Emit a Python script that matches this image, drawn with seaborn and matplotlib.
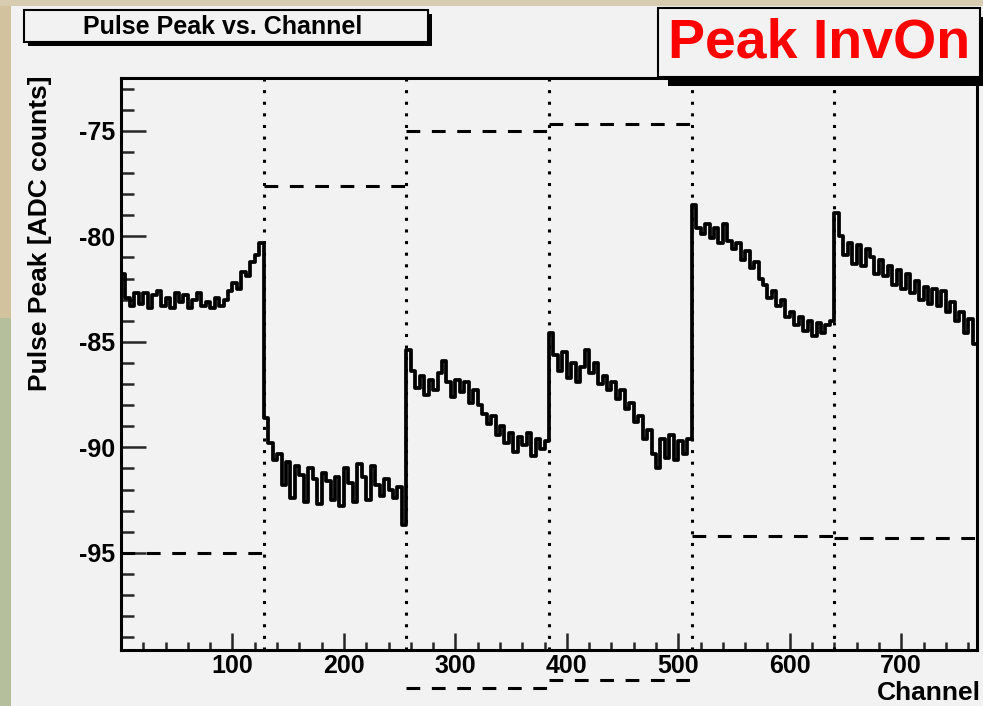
import numpy as np
import matplotlib.pyplot as plt
import seaborn as sns
from matplotlib.patches import Rectangle

# channel binning used when reading values off the plot (4 channels per value)
bin_width = 4
n_channels = 768

# pulse peak per 4-channel bin, one list per 128-channel chip
chip1 = [-81.8, -82.9, -83.3, -82.7, -83.2, -82.7, -83.4, -82.8, -82.6, -83.3, -82.9, -83.4,
         -82.7, -83.1, -82.8, -83.4, -83.0, -82.7, -83.3, -83.1, -83.4, -82.9, -83.3, -83.0,
         -82.6, -82.2, -82.5, -81.7, -81.9, -81.2, -80.9, -80.3]
chip2 = [-88.6, -89.8, -90.6, -90.3, -91.8, -90.7, -92.4, -90.9, -91.3, -92.6, -91.0, -91.5,
         -92.7, -91.2, -91.6, -92.5, -91.4, -92.8, -91.0, -91.7, -92.6, -90.8, -91.4, -92.5,
         -90.9, -91.8, -92.3, -91.5, -92.0, -92.4, -91.9, -93.7]
chip3 = [-85.4, -86.4, -87.2, -86.6, -87.5, -86.8, -87.3, -86.5, -85.9, -86.9, -87.6, -86.8,
         -87.4, -86.9, -87.9, -87.3, -88.0, -88.4, -88.9, -88.5, -89.4, -89.0, -89.8, -89.3,
         -90.2, -89.5, -89.9, -89.3, -90.4, -89.6, -90.1, -89.7]
chip4 = [-84.6, -85.6, -86.4, -85.5, -86.7, -86.0, -86.9, -86.2, -85.4, -86.5, -86.0, -87.0,
         -86.6, -87.3, -86.9, -87.7, -87.3, -88.2, -87.9, -88.8, -88.5, -89.6, -89.2, -90.3,
         -91.0, -89.6, -90.5, -89.4, -90.6, -89.7, -90.3, -89.6]
chip5 = [-78.5, -79.6, -79.9, -79.4, -80.1, -79.6, -80.3, -79.4, -80.2, -80.6, -80.3, -81.1,
         -80.7, -81.5, -81.2, -82.0, -82.3, -82.9, -82.6, -83.3, -83.0, -83.8, -83.6, -84.2,
         -83.8, -84.5, -84.0, -84.7, -84.1, -84.6, -84.2, -84.0]
chip6 = [-78.9, -80.0, -80.9, -80.3, -81.3, -80.4, -81.4, -80.6, -81.0, -81.8, -81.1, -81.9,
         -81.4, -82.3, -81.6, -82.5, -81.8, -82.7, -82.1, -83.0, -82.4, -83.2, -82.5, -83.3,
         -82.6, -83.6, -83.1, -84.0, -83.6, -84.6, -83.9, -85.1]

chip_edges = [0, 128, 256, 384, 512, 640, 768]
# dashed reference level per chip
chip_levels = [-95.0, -77.6, -75.0, -74.7, -94.2, -94.3]
# second dashed levels that fall below the frame (chips 3 and 4)
low_chips = [2, 3]
low_levels = [-101.4, -101.0]

peak = chip1 + chip2 + chip3 + chip4 + chip5 + chip6
x = list(range(0, n_channels, bin_width)) + [n_channels]
y = peak + [peak[-1]]

W, H = 983, 706
panel = "#f2f2f2"
sns.set_style("ticks")
plt.rcParams["font.family"] = ["Liberation Sans", "DejaVu Sans"]
plt.rcParams["font.weight"] = "bold"
plt.rcParams["axes.unicode_minus"] = False

fig = plt.figure(figsize=(W / 100, H / 100), dpi=100, facecolor=panel)

# strip of the desktop picture peeking out at the left and top edges
fig.patches.append(Rectangle((0, 0.55), 11 / W, 0.45, transform=fig.transFigure,
                             facecolor="#d3c29e", edgecolor="none", zorder=-5))
fig.patches.append(Rectangle((0, 0), 11 / W, 0.55, transform=fig.transFigure,
                             facecolor="#b6bf9c", edgecolor="none", zorder=-5))
fig.patches.append(Rectangle((0, 1 - 6 / H), 1, 6 / H, transform=fig.transFigure,
                             facecolor="#d8ccb0", edgecolor="none", zorder=-5))

ax = fig.add_axes([121 / W, 56 / H, 856 / W, 572 / H])
ax.set_facecolor(panel)

sns.lineplot(x=x, y=y, ax=ax, color="black", linewidth=2.7, drawstyle="steps-post",
             estimator=None, sort=False)

for edge in chip_edges[1:-1]:
    ax.axvline(edge, color="black", linewidth=2.2, linestyle=(0, (1, 2.8)), zorder=1)

for i, lvl in enumerate(chip_levels):
    ax.plot([chip_edges[i], chip_edges[i + 1]], [lvl, lvl], color="black",
            linewidth=2.2, linestyle=(0, (4.5, 3.8)))
for i, lvl in zip(low_chips, low_levels):
    ax.plot([chip_edges[i], chip_edges[i + 1]], [lvl, lvl], color="black",
            linewidth=2.2, linestyle=(0, (4.5, 3.8)), clip_on=False)

ax.set_xlim(0, 768)
ax.set_ylim(-99.6, -72.5)
ax.set_xticks([100, 200, 300, 400, 500, 600, 700])
ax.set_xticks(np.arange(20, 768, 20), minor=True)
ax.set_yticks([-95, -90, -85, -80, -75])
ax.set_yticks(np.arange(-99, -72, 1), minor=True)
ax.tick_params(axis="both", which="both", direction="in", width=1.8, labelsize=18,
               top=False, right=False, labelcolor="black")
ax.tick_params(axis="y", which="major", length=18, pad=4)
ax.tick_params(axis="y", which="minor", length=9)
ax.tick_params(axis="x", which="major", length=12, pad=3)
ax.tick_params(axis="x", which="minor", length=6)
for lab in ax.get_xticklabels() + ax.get_yticklabels():
    lab.set_fontweight("bold")
for sp in ax.spines.values():
    sp.set_linewidth(2.2)
    sp.set_color("black")

ax.set_ylabel("Pulse Peak [ADC counts]", fontsize=19, fontweight="bold", color="black")
ax.yaxis.set_label_coords(-0.081, 1.005)
ax.yaxis.label.set_horizontalalignment("right")
ax.set_xlabel("Channel", fontsize=19, fontweight="bold", color="black")
ax.xaxis.set_label_coords(1.004, -0.055)
ax.xaxis.label.set_horizontalalignment("right")


def shadow_box(x0, y0, x1, y1, dx, dy):
    fig.patches.append(Rectangle((x0 / W + dx / W, 1 - (y1 + dy) / H), (x1 - x0) / W,
                                 (y1 - y0) / H, transform=fig.transFigure,
                                 facecolor="black", edgecolor="none", zorder=3))
    fig.patches.append(Rectangle((x0 / W, 1 - y1 / H), (x1 - x0) / W, (y1 - y0) / H,
                                 transform=fig.transFigure, facecolor=panel,
                                 edgecolor="black", linewidth=1.5, zorder=4))


shadow_box(24, 10, 428, 42, 4, 4)
fig.text(223 / W, 1 - 27 / H, "Pulse Peak vs. Channel", fontsize=18, fontweight="bold",
         ha="center", va="center", zorder=5, color="black")

shadow_box(658, 8, 980, 77, 10, 9)
fig.text(819 / W, 1 - 43 / H, "Peak InvOn", fontsize=40, fontweight="bold", color="red",
         ha="center", va="center", zorder=5)

fig.savefig("out.png", dpi=100, facecolor=panel)
